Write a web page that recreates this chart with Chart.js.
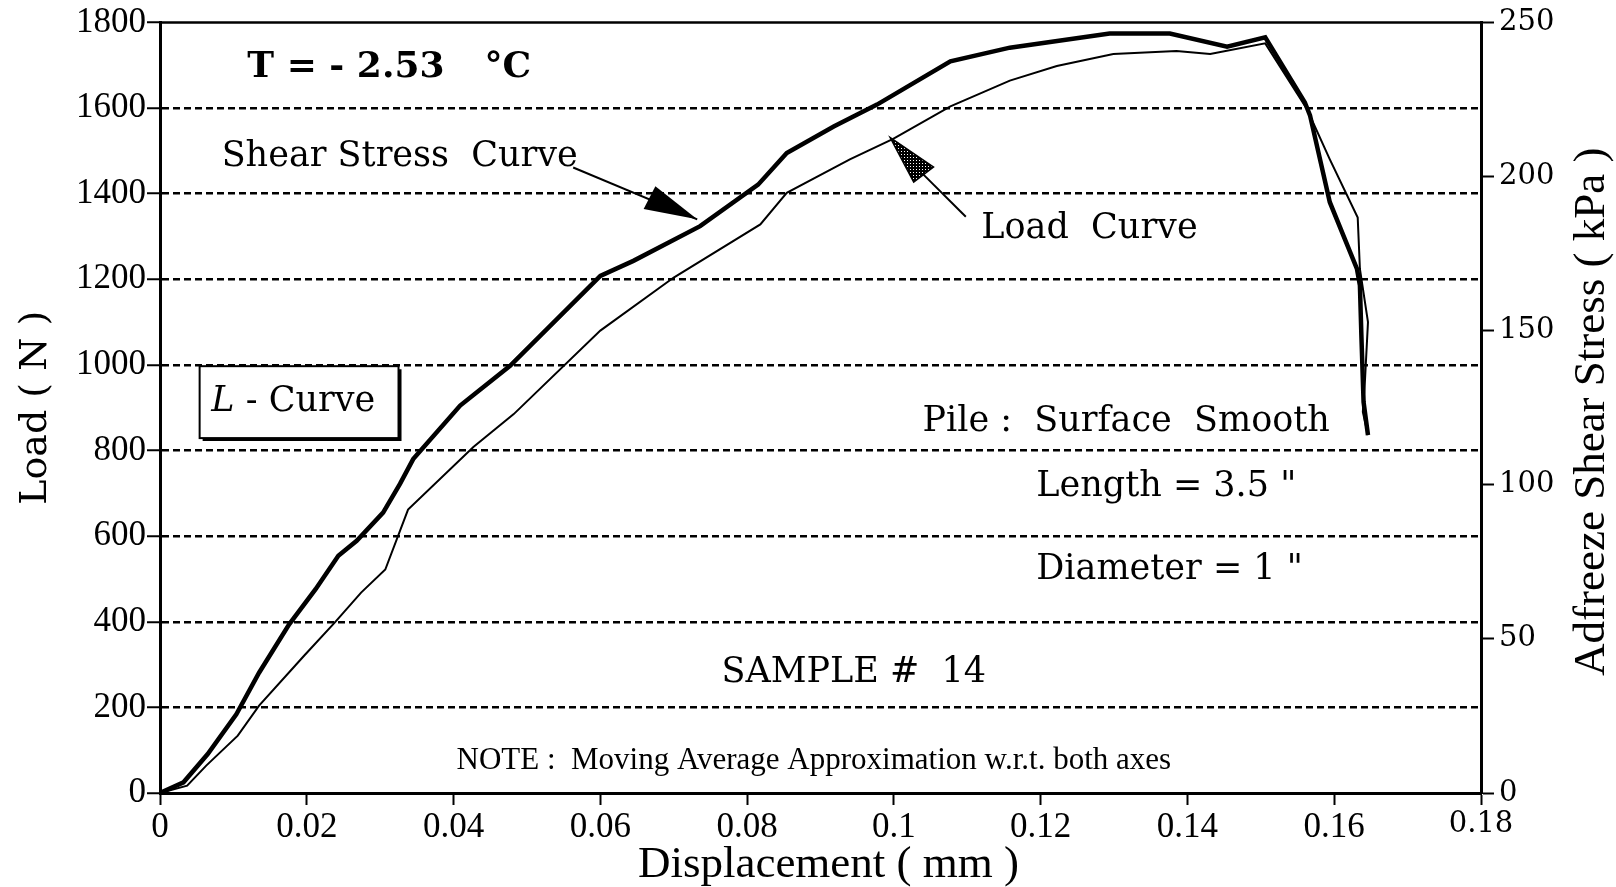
<!DOCTYPE html>
<html>
<head>
<meta charset="utf-8">
<script src="https://cdn.jsdelivr.net/npm/chart.js@4.4.1/dist/chart.umd.min.js"></script>
<style>
    html, body { margin: 0; padding: 0; background: #fff; }
    #wrap { width: 1616px; height: 887px; }
</style>
</head>
<body>
<div id="wrap"><canvas id="my-chart"></canvas></div>
<script>
const shearDisp = [0, 0.0032, 0.0065, 0.0104, 0.0135, 0.0176, 0.0212, 0.0243, 0.0268, 0.0304, 0.0327, 0.0345, 0.0409, 0.0477, 0.0600, 0.0645, 0.0736, 0.0815, 0.0854, 0.0918, 0.0977, 0.1077, 0.1158, 0.1294, 0.1376, 0.1454, 0.1506, 0.1560, 0.1567, 0.1594, 0.1631, 0.1635, 0.1637, 0.1640, 0.1646];
const shearLoad = [0, 25, 91, 184, 281, 394, 476, 554, 589, 655, 722, 780, 905, 998, 1208, 1243, 1324, 1421, 1495, 1557, 1608, 1709, 1741, 1774, 1774, 1743, 1765, 1613, 1583, 1380, 1224, 1186, 1069, 913, 836];

// thin "Load" curve
const loadDisp = [0, 0.0037, 0.0063, 0.0106, 0.0135, 0.0196, 0.0238, 0.0274, 0.0307, 0.0338, 0.0427, 0.0482, 0.0600, 0.0700, 0.0818, 0.0854, 0.0940, 0.0999, 0.1077, 0.1158, 0.1222, 0.1299, 0.1385, 0.1431, 0.1506, 0.1563, 0.1594, 0.1632, 0.1635, 0.1646, 0.1642, 0.1639, 0.1646];
const loadLoad = [0, 17, 64, 134, 204, 320, 398, 468, 522, 662, 808, 885, 1080, 1204, 1328, 1402, 1480, 1528, 1604, 1664, 1698, 1726, 1733, 1726, 1751, 1597, 1480, 1344, 1224, 1100, 967, 890, 836];

const dispTicks = [0, 0.02, 0.04, 0.06, 0.08, 0.1, 0.12, 0.14, 0.16, 0.18];
const loadTicks = [0, 200, 400, 600, 800, 1000, 1200, 1400, 1600, 1800];
const stressTicks = [0, 50, 100, 150, 200, 250];

// text notes, anchored in data units (left edge, vertical middle)
const notes = [
    { text: 'Shear Stress  Curve', x: 0.0084, y: 1485 },
    { text: 'Load  Curve', x: 0.1119, y: 1317 },
    { text: 'Pile :  Surface  Smooth', x: 0.1039, y: 867 },
    { text: 'Length = 3.5 "', x: 0.1194, y: 716 },
    { text: 'Diameter = 1 "', x: 0.1194, y: 521 },
    { text: 'SAMPLE #  14', x: 0.0765, y: 281 }
];

const serif = 'DejaVu Serif';
const times = 'Liberation Serif';

function pointsOf(xs, ys) {
    return xs.map((x, i) => ({ x: x, y: ys[i] }));
}

function stipple() {
    const c = document.createElement('canvas');
    c.width = 3; c.height = 3;
    const g = c.getContext('2d');
    g.fillStyle = '#000';
    g.fillRect(0, 0, 3, 3);
    g.fillStyle = '#fff';
    g.fillRect(1, 1, 1, 1);
    return c;
}

const notesPlugin = {
    id: 'notes',
    beforeDraw(chart) {
        const ctx = chart.ctx;
        ctx.save();
        ctx.fillStyle = '#fff';
        ctx.fillRect(0, 0, chart.width, chart.height);
        ctx.restore();
    },
    afterDraw(chart) {
        const { ctx, chartArea, scales } = chart;
        const X = v => scales.x.getPixelForValue(v);
        const Y = v => scales.y.getPixelForValue(v);
        ctx.save();
        ctx.fillStyle = '#000';
        ctx.strokeStyle = '#000';

        // top frame line
        ctx.lineWidth = 2.5;
        ctx.beginPath();
        ctx.moveTo(chartArea.left, chartArea.top);
        ctx.lineTo(chartArea.right, chartArea.top);
        ctx.stroke();

        // axis titles
        ctx.textAlign = 'center';
        ctx.textBaseline = 'middle';
        ctx.font = '45px "' + times + '"';
        ctx.fillText('Displacement ( mm )', (chartArea.left + chartArea.right) / 2 + 8, 865);

        ctx.save();
        ctx.translate(36, (chartArea.top + chartArea.bottom) / 2);
        ctx.rotate(-Math.PI / 2);
        ctx.font = '38px "' + serif + '"';
        ctx.fillText('Load ( N )', 0, 0);
        ctx.restore();

        ctx.save();
        ctx.translate(1592, (chartArea.top + chartArea.bottom) / 2 + 4);
        ctx.rotate(-Math.PI / 2);
        ctx.font = '45px "' + times + '"';
        ctx.fillText('Adfreeze Shear Stress ( kPa )', 0, 0);
        ctx.restore();

        // temperature
        ctx.textAlign = 'left';
        ctx.font = 'bold 36px "' + serif + '"';
        ctx.fillText('T = - 2.53', X(0.0119), Y(1694));
        ctx.fillText('\u00B0C', X(0.0442), Y(1694));

        // plain notes
        ctx.font = '35px "' + serif + '"';
        notes.forEach(n => ctx.fillText(n.text, X(n.x), Y(n.y)));

        ctx.font = '31px "' + times + '"';
        ctx.fillText('NOTE :  Moving Average Approximation w.r.t. both axes', X(0.0404), Y(75));

        // L - Curve box
        const bx0 = X(0.0054), bx1 = X(0.0325), by0 = Y(997), by1 = Y(829);
        ctx.lineWidth = 2;
        ctx.strokeRect(bx0, by0, bx1 - bx0, by1 - by0);
        ctx.lineWidth = 3;
        ctx.beginPath();
        ctx.moveTo(bx0 + 3, by1 + 1.5);
        ctx.lineTo(bx1 + 1.5, by1 + 1.5);
        ctx.lineTo(bx1 + 1.5, by0 + 3);
        ctx.stroke();
        ctx.font = 'italic 35px "' + serif + '"';
        ctx.fillText('L', X(0.0070), Y(913));
        const lw = ctx.measureText('L').width;
        ctx.font = '35px "' + serif + '"';
        ctx.fillText(' - Curve', X(0.0070) + lw, Y(913));

        // arrow to the shear stress curve
        ctx.lineWidth = 2;
        ctx.beginPath();
        ctx.moveTo(X(0.0563), Y(1461));
        ctx.lineTo(X(0.0732), Y(1340));
        ctx.stroke();
        ctx.beginPath();
        ctx.moveTo(X(0.0732), Y(1340));
        ctx.lineTo(X(0.0675), Y(1417));
        ctx.lineTo(X(0.0659), Y(1364));
        ctx.closePath();
        ctx.fill();

        // arrow to the load curve (stippled head)
        ctx.beginPath();
        ctx.moveTo(X(0.1098), Y(1346));
        ctx.lineTo(X(0.1040), Y(1445));
        ctx.stroke();
        ctx.beginPath();
        ctx.moveTo(X(0.0995), Y(1531));
        ctx.lineTo(X(0.1027), Y(1427));
        ctx.lineTo(X(0.1054), Y(1462));
        ctx.closePath();
        ctx.fillStyle = ctx.createPattern(stipple(), 'repeat');
        ctx.fill();
        ctx.lineWidth = 1.5;
        ctx.stroke();

        ctx.restore();
    }
};

const gridColor = c => (c.tick && (c.tick.value === 0 || c.tick.value === 1800)) ? 'rgba(0,0,0,0)' : '#000';

new Chart(document.getElementById('my-chart').getContext('2d'), {
    type: 'scatter',
    data: {
        datasets: [
            {
                label: 'Shear Stress Curve',
                data: pointsOf(shearDisp, shearLoad),
                showLine: true,
                borderColor: '#000',
                borderWidth: 4.5,
                pointRadius: 0,
                tension: 0
            },
            {
                label: 'Load Curve',
                data: pointsOf(loadDisp, loadLoad),
                showLine: true,
                borderColor: '#000',
                borderWidth: 2,
                pointRadius: 0,
                tension: 0
            }
        ]
    },
    options: {
        responsive: true,
        maintainAspectRatio: false,
        devicePixelRatio: 1,
        animation: false,
        layout: { padding: { top: 19, left: 0, right: 0, bottom: 0 } },
        scales: {
            x: {
                type: 'linear',
                min: 0,
                max: 0.18,
                afterBuildTicks: axis => { axis.ticks = dispTicks.map(v => ({ value: v })); },
                afterFit: s => { s.height = 94; },
                grid: { drawOnChartArea: false, drawTicks: true, tickLength: 12, tickWidth: 2, tickColor: '#000' },
                border: { display: true, color: '#000', width: 3 },
                ticks: {
                    color: '#000',
                    padding: 2,
                    maxRotation: 0,
                    autoSkip: false,
                    font: c => (c.tick && c.tick.value > 0.17)
                        ? { family: serif, size: 29 }
                        : { family: times, size: 35 },
                    callback: v => String(parseFloat(Number(v).toFixed(2)))
                }
            },
            y: {
                position: 'left',
                min: 0,
                max: 1800,
                afterBuildTicks: axis => { axis.ticks = loadTicks.map(v => ({ value: v })); },
                afterFit: s => { s.width = 160; },
                grid: {
                    color: gridColor,
                    lineWidth: 2.5,
                    tickBorderDash: [],
                    tickLength: 13,
                    tickWidth: 2,
                    tickColor: '#000'
                },
                border: { display: true, color: '#000', width: 3, dash: [7, 4] },
                ticks: {
                    color: '#000',
                    padding: 1,
                    font: { family: times, size: 35 },
                    callback: v => String(v)
                }
            },
            y2: {
                position: 'right',
                min: 0,
                max: 250,
                afterBuildTicks: axis => { axis.ticks = stressTicks.map(v => ({ value: v })); },
                afterFit: s => { s.width = 135; },
                grid: { drawOnChartArea: false, tickLength: 13, tickWidth: 2, tickColor: '#000' },
                border: { display: true, color: '#000', width: 3 },
                ticks: {
                    color: '#000',
                    padding: 5,
                    font: { family: serif, size: 29 },
                    callback: v => String(v)
                }
            }
        },
        plugins: {
            legend: { display: false },
            tooltip: { enabled: false },
            title: { display: false }
        }
    },
    plugins: [notesPlugin]
});
</script>
</body>
</html>
